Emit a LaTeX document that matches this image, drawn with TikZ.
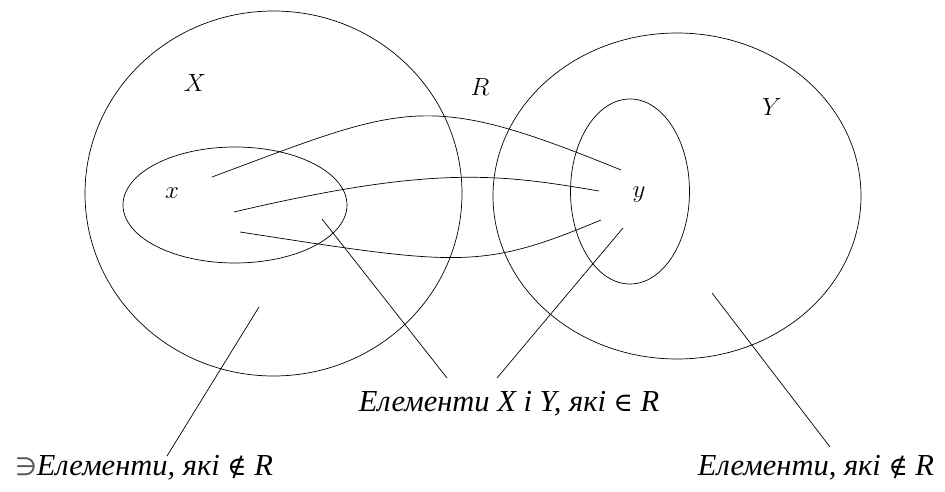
\documentclass[tikz,border=0pt]{standalone}
\usepackage{fontspec}
\setmainfont{Liberation Serif}
\newfontfamily\symfont{DejaVu Sans}
\newfontfamily\relfont{DejaVu Serif}
\begin{document}
\begin{tikzpicture}[x=1pt,y=-1pt,line width=0.7pt,
  setlab/.style={font=\fontsize{23}{23}\selectfont, inner sep=0pt},
  captxt/.style={font=\itshape\fontsize{30.5}{30.5}\selectfont, inner sep=0pt, anchor=base},
  pointer/.style={line width=0.7pt},
  relcurve/.style={line width=0.7pt}]
\useasboundingbox (0,0) rectangle (945,492);
% sets
\draw (273.5,193.5) ellipse [x radius=188.5pt, y radius=182.5pt];
\draw (677,196) ellipse [x radius=184pt, y radius=163pt];
\draw (235,205) ellipse [x radius=112pt, y radius=58pt];
\draw (630,191.5) ellipse [x radius=59.5pt, y radius=92.5pt];
% labels
\node[setlab] (lX) at (195,83) {$X$};
\node[setlab] (lR) at (480,87) {$R$};
\node[setlab] (lY) at (772,107) {$Y$};
\node[setlab] (lx) at (172,193) {$x$};
\node[setlab] (ly) at (639,195) {$y$};
% relation curves
\coordinate (a1) at (212,177); \coordinate (b1) at (621,170);
\coordinate (a2) at (234,212); \coordinate (b2) at (599,191);
\coordinate (a3) at (240,232); \coordinate (b3) at (601,220);
\draw[relcurve] (a1) .. controls (408,104) and (425,90) .. (b1);
\draw[relcurve] (a2) .. controls (434,165) and (499,174) .. (b2);
\draw[relcurve] (a3) .. controls (460,266) and (481,270) .. (b3);
% captions
\node[captxt] (cmid) at (509,411) {Елементи X і Y, які {\relfont\upshape\fontsize{26}{26}\selectfont ∈} R};
\node[captxt] (cleft) at (144,475) {{\symfont\upshape\color{black!65}\fontsize{25}{25}\selectfont ∋}Елементи, які {\relfont\upshape\fontsize{26}{26}\selectfont ∉} R};
\node[captxt] (cright) at (816,475) {Елементи, які {\relfont\upshape\fontsize{26}{26}\selectfont ∉} R};
% pointers
\coordinate (p1s) at (259,307); \coordinate (p1e) at (167,456);
\coordinate (p2s) at (322,219); \coordinate (p2e) at (447,378);
\coordinate (p3s) at (623,228); \coordinate (p3e) at (497,378);
\coordinate (p4s) at (712,293); \coordinate (p4e) at (830,447);
\draw[pointer] (p1s) -- (p1e);
\draw[pointer] (p2s) -- (p2e);
\draw[pointer] (p3s) -- (p3e);
\draw[pointer] (p4s) -- (p4e);
\end{tikzpicture}
\end{document}
